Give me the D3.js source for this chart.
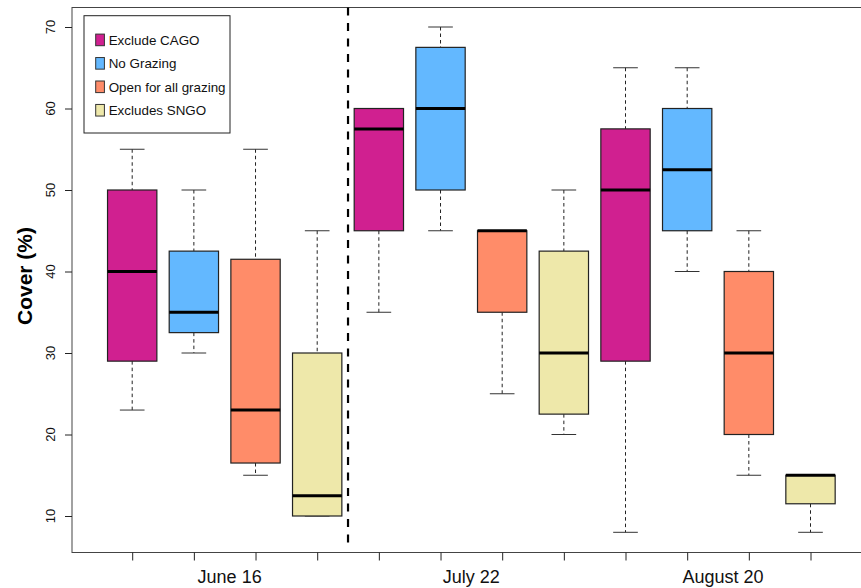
<!DOCTYPE html>
<html>
<head>
  <meta charset="utf-8">
  <script src="https://d3js.org/d3.v7.min.js"></script>
  <style>
    body { margin: 0; background: #fff; }
    svg { display: block; font-family: "Liberation Sans", Arial, sans-serif; }
  </style>
</head>
<body>
<script>
  // cover data, one box per position (3 dates x 4 treatments)
  var groups = ["June 16", "July 22", "August 20"];
  var treatments = ["Exclude CAGO", "No Grazing", "Open for all grazing", "Excludes SNGO"];
  var colors = ["#D02090", "#63B8FF", "#FF8C69", "#EEE8AA"];

  var lowerWhisker = [23, 30, 15, 10,   35, 45, 25, 20,   8, 40, 15, 8];
  var q1           = [29, 32.5, 16.5, 10,   45, 50, 35, 22.5,   29, 45, 20, 11.5];
  var medians      = [40, 35, 23, 12.5,   57.5, 60, 45, 30,   50, 52.5, 30, 15];
  var q3           = [50, 42.5, 41.5, 30,   60, 67.5, 45, 42.5,   57.5, 60, 40, 15];
  var upperWhisker = [55, 50, 55, 45,   60, 70, 45, 50,   65, 65, 45, 15];

  var yTicks = [10, 20, 30, 40, 50, 60, 70];

  var width = 861, height = 588;
  var frame = {left: 72, top: 7.5, bottom: 552.5, right: 900};

  var svg = d3.select("body").append("svg")
    .attr("width", width)
    .attr("height", height);

  var x = d3.scaleLinear().domain([1, 12]).range([132.2, 810.5]);
  var y = d3.scaleLinear().domain([10, 70]).range([516, 27]);

  var step = x(2) - x(1);
  var boxW = step * 0.8;
  var capW = boxW * 0.5;

  var boxes = medians.map(function (m, i) {
    return {
      pos: i + 1,
      color: colors[i % 4],
      lo: lowerWhisker[i], q1: q1[i], med: m, q3: q3[i], hi: upperWhisker[i]
    };
  });

  // plot frame
  svg.append("rect")
    .attr("x", frame.left).attr("y", frame.top)
    .attr("width", frame.right - frame.left)
    .attr("height", frame.bottom - frame.top)
    .attr("fill", "none")
    .attr("stroke", "#444")
    .attr("stroke-width", 1);

  // y axis
  var yAxis = svg.append("g")
    .attr("transform", "translate(" + frame.left + ",0)")
    .call(d3.axisLeft(y).tickValues(yTicks).tickSize(7).tickFormat(""));
  yAxis.select(".domain").remove();
  yAxis.selectAll("line").attr("stroke", "#222");

  svg.selectAll(".ylab")
    .data(yTicks)
    .enter()
    .append("text")
      .attr("class", "ylab")
      .attr("transform", function (d) { return "translate(54.5," + y(d) + ") rotate(-90)"; })
      .attr("text-anchor", "middle")
      .style("font-size", "13px")
      .attr("fill", "#111")
      .text(function (d) { return d; });

  svg.append("text")
    .attr("transform", "translate(31.5,276) rotate(-90)")
    .attr("text-anchor", "middle")
    .style("font-size", "21px")
    .style("font-weight", "bold")
    .text("Cover (%)");

  // x axis ticks (no numbers)
  var xAxis = svg.append("g")
    .attr("transform", "translate(0," + frame.bottom + ")")
    .call(d3.axisBottom(x).tickValues(d3.range(1, 13)).tickSize(8).tickFormat(""));
  xAxis.select(".domain").remove();
  xAxis.selectAll("line").attr("stroke", "#222");

  var labelAt = [2.58, 6.5, 10.58];
  svg.selectAll(".glab")
    .data(groups)
    .enter()
    .append("text")
      .attr("class", "glab")
      .attr("x", function (d, i) { return x(labelAt[i]); })
      .attr("y", 583)
      .attr("text-anchor", "middle")
      .style("font-size", "18px")
      .attr("fill", "#111")
      .text(function (d) { return d; });

  // separator between June and July
  svg.append("line")
    .attr("x1", x(4.5)).attr("x2", x(4.5))
    .attr("y1", frame.top).attr("y2", 546)
    .attr("stroke", "#000")
    .attr("stroke-width", 2.2)
    .attr("stroke-dasharray", "8,7.5");

  // boxplots
  var g = svg.selectAll(".box")
    .data(boxes)
    .enter()
    .append("g")
      .attr("class", "box");

  g.append("line")
    .attr("x1", function (d) { return x(d.pos); })
    .attr("x2", function (d) { return x(d.pos); })
    .attr("y1", function (d) { return y(d.hi); })
    .attr("y2", function (d) { return y(d.q3); })
    .attr("stroke", "#222")
    .attr("stroke-dasharray", "3.5,3");

  g.append("line")
    .attr("x1", function (d) { return x(d.pos); })
    .attr("x2", function (d) { return x(d.pos); })
    .attr("y1", function (d) { return y(d.q1); })
    .attr("y2", function (d) { return y(d.lo); })
    .attr("stroke", "#222")
    .attr("stroke-dasharray", "3.5,3");

  g.append("line")
    .attr("x1", function (d) { return x(d.pos) - capW / 2; })
    .attr("x2", function (d) { return x(d.pos) + capW / 2; })
    .attr("y1", function (d) { return y(d.hi); })
    .attr("y2", function (d) { return y(d.hi); })
    .attr("stroke", "#333");

  g.append("line")
    .attr("x1", function (d) { return x(d.pos) - capW / 2; })
    .attr("x2", function (d) { return x(d.pos) + capW / 2; })
    .attr("y1", function (d) { return y(d.lo); })
    .attr("y2", function (d) { return y(d.lo); })
    .attr("stroke", "#333");

  g.append("rect")
    .attr("x", function (d) { return x(d.pos) - boxW / 2; })
    .attr("y", function (d) { return y(d.q3); })
    .attr("width", boxW)
    .attr("height", function (d) { return y(d.q1) - y(d.q3); })
    .attr("fill", function (d) { return d.color; })
    .attr("stroke", "#222")
    .attr("stroke-width", 1.2);

  g.append("line")
    .attr("x1", function (d) { return x(d.pos) - boxW / 2; })
    .attr("x2", function (d) { return x(d.pos) + boxW / 2; })
    .attr("y1", function (d) { return y(d.med); })
    .attr("y2", function (d) { return y(d.med); })
    .attr("stroke", "#000")
    .attr("stroke-width", 3);

  // legend
  var legend = svg.append("g");
  legend.append("rect")
    .attr("x", 84).attr("y", 15.7)
    .attr("width", 146).attr("height", 117.3)
    .attr("fill", "#fff")
    .attr("stroke", "#222");

  var items = legend.selectAll(".item")
    .data(treatments)
    .enter()
    .append("g")
      .attr("class", "item")
      .attr("transform", function (d, i) { return "translate(0," + (39.9 + i * 23.45) + ")"; });

  items.append("rect")
    .attr("x", 95.7).attr("y", -5.8)
    .attr("width", 8.7).attr("height", 11.6)
    .attr("fill", function (d, i) { return colors[i]; })
    .attr("stroke", "#333");

  items.append("text")
    .attr("x", 108.7)
    .attr("y", 4.8)
    .style("font-size", "13.4px")
    .attr("fill", "#111")
    .text(function (d) { return d; });
</script>
</body>
</html>
